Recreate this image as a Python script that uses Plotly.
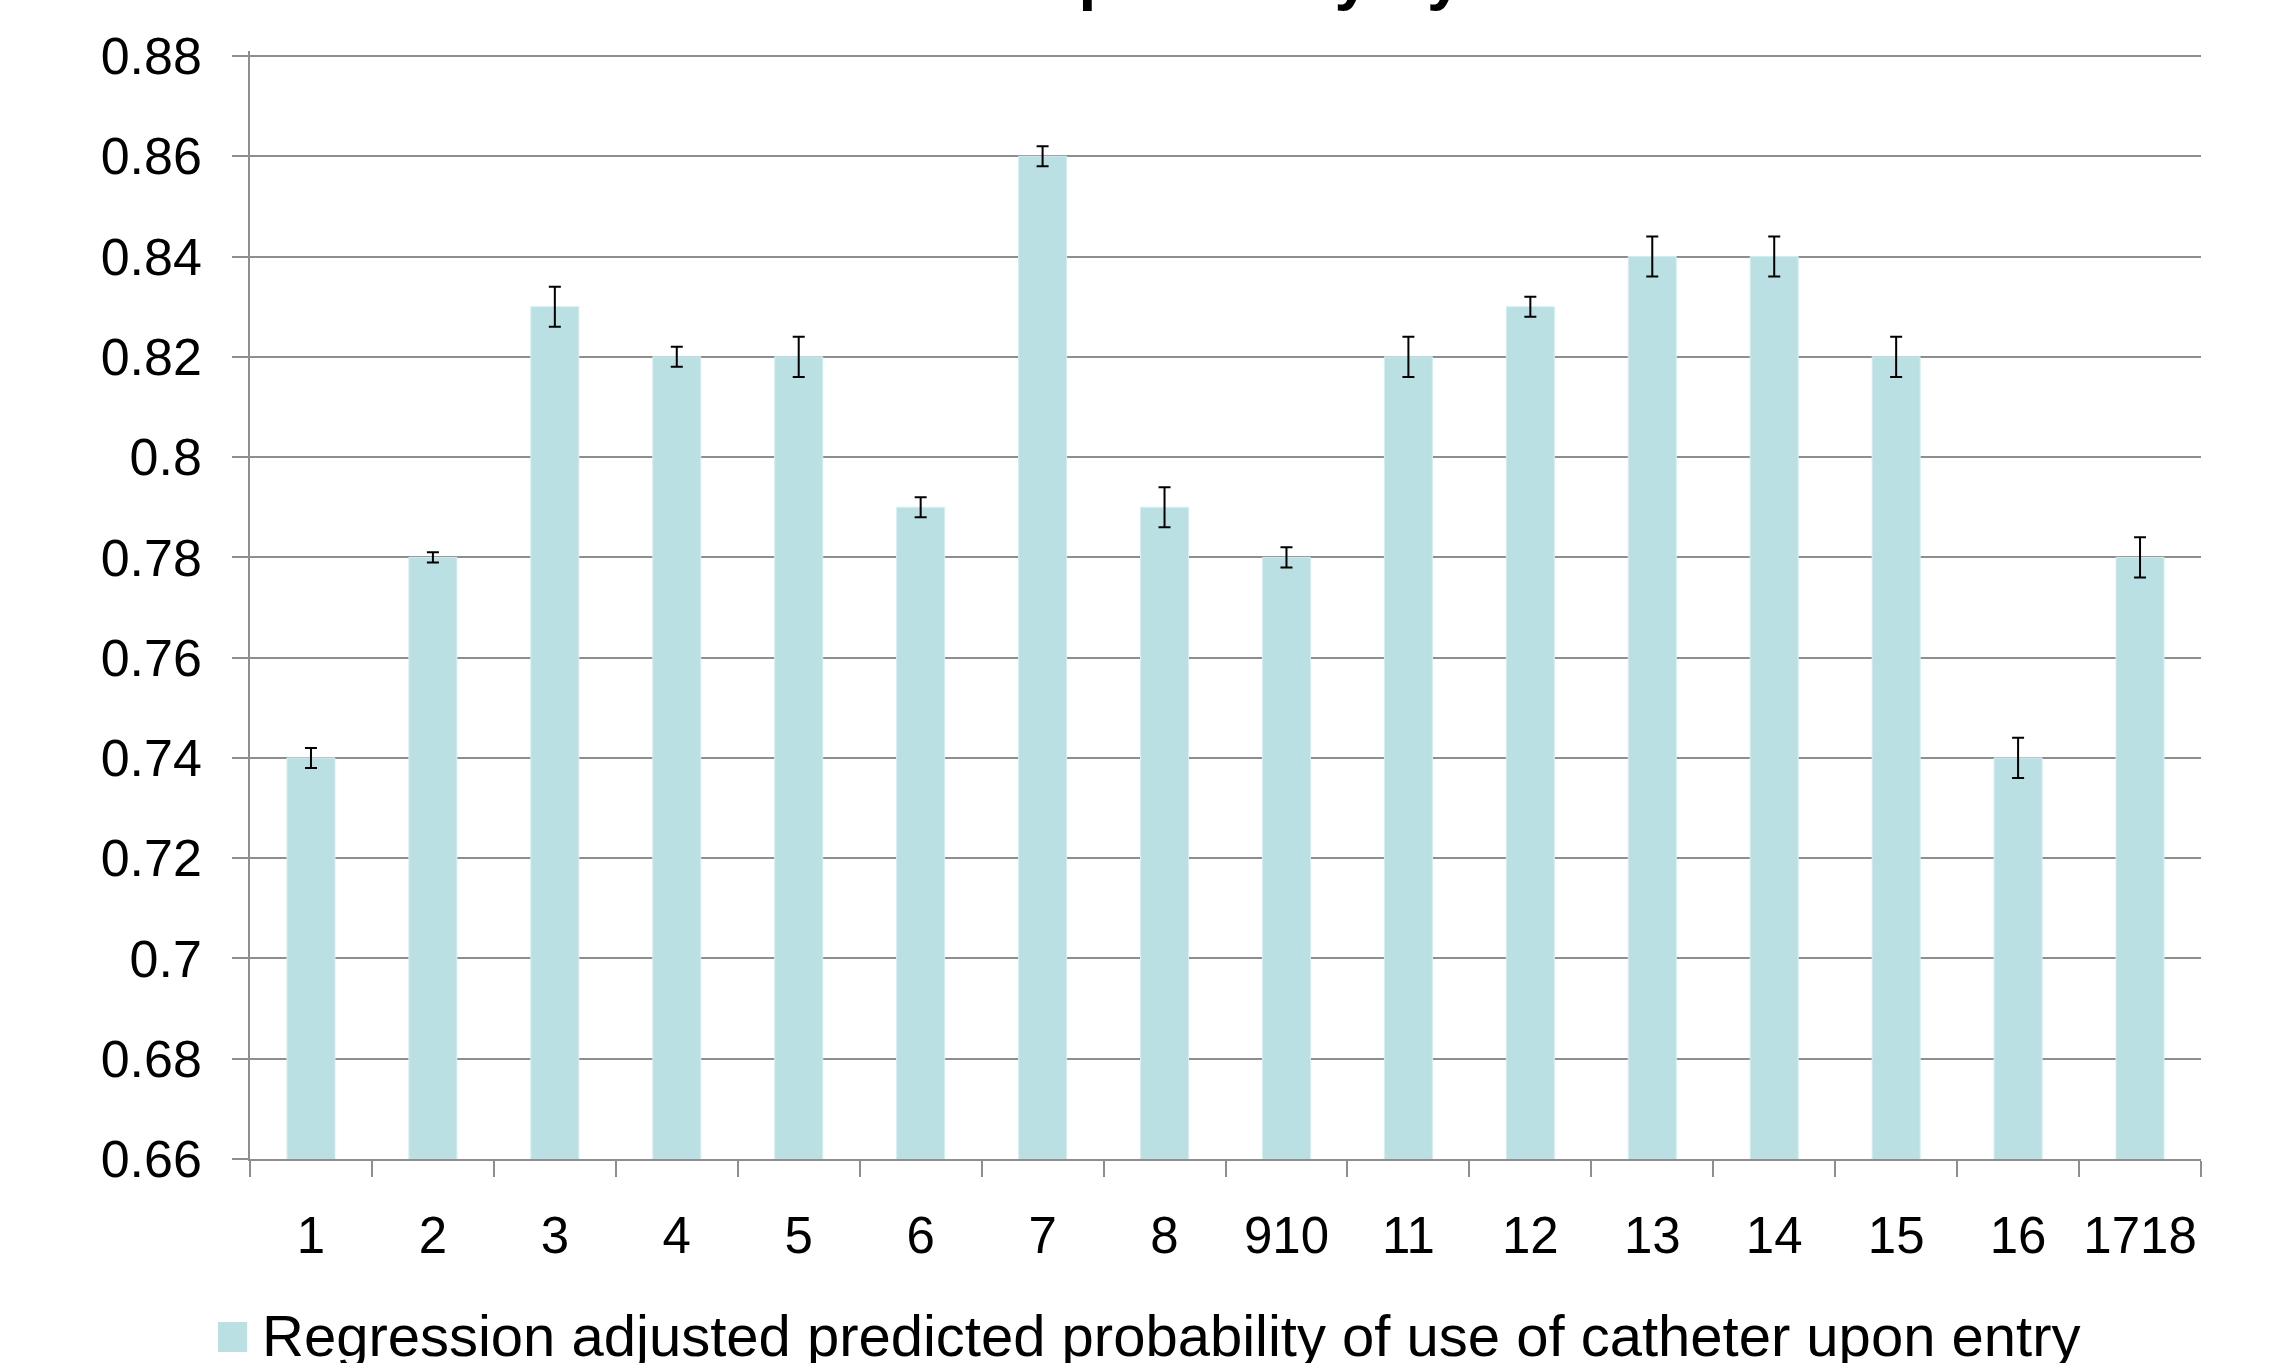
import plotly.graph_objects as go

categories = ["1", "2", "3", "4", "5", "6", "7", "8", "910", "11", "12", "13", "14", "15", "16", "1718"]
values = [0.74, 0.78, 0.83, 0.82, 0.82, 0.79, 0.86, 0.79, 0.78, 0.82, 0.83, 0.84, 0.84, 0.82, 0.74, 0.78]
errors = [0.002, 0.001, 0.004, 0.002, 0.004, 0.002, 0.002, 0.004, 0.002, 0.004, 0.002, 0.004, 0.004, 0.004, 0.004, 0.004]
y_tickvals = [0.66, 0.68, 0.70, 0.72, 0.74, 0.76, 0.78, 0.80, 0.82, 0.84, 0.86, 0.88]
y_ticktext = ["0.66", "0.68", "0.7", "0.72", "0.74", "0.76", "0.78", "0.8", "0.82", "0.84", "0.86", "0.88"]
series_name = "Regression adjusted predicted probability of use of catheter upon entry"
title_text = "Catheter use upon entry by State"

W, H = 2270, 1363
ML, MR, MT, MB = 250, 69, 51, 204
PH = H - MT - MB
PW = W - ML - MR

FONT = "Liberation Sans, Arial, sans-serif"
GRID = "#8e8e8e"
BAR = "#bbe0e3"

fig = go.Figure()
fig.add_trace(go.Bar(
    x=categories, y=values, name=series_name,
    marker=dict(color=BAR, line=dict(color="#d6eef0", width=1)),
    error_y=dict(type="data", array=errors, visible=True, color="black", thickness=2, width=6),
    showlegend=False,
))

def py(pix):
    return (H - MB - pix) / PH

def px(pix):
    return (pix - ML) / PW

# legend (manual, to match the large swatch)
fig.add_shape(type="rect", xref="paper", yref="paper",
              x0=px(218), x1=px(247), y0=py(1352), y1=py(1322),
              fillcolor=BAR, line=dict(width=0))
fig.add_annotation(text=series_name, xref="paper", yref="paper",
                   x=px(260), y=py(1335), xanchor="left", yanchor="middle",
                   showarrow=False, font=dict(family=FONT, size=58, color="black"))

# title, mostly cut off at the top edge
fig.add_annotation(text="<b>" + title_text + "</b>", xref="paper", yref="paper",
                   x=px(W / 2), y=py(14), xanchor="center", yanchor="bottom",
                   showarrow=False, font=dict(family=FONT, size=64, color="black"))

fig.update_layout(
    width=W, height=H,
    margin=dict(l=ML, r=MR, t=MT, b=MB, pad=0, autoexpand=False),
    paper_bgcolor="white", plot_bgcolor="white",
    bargap=0.606,
    font=dict(family=FONT, color="black"),
    xaxis=dict(
        type="category", tickson="boundaries", ticks="outside", ticklen=16,
        tickcolor=GRID, tickwidth=2, showline=True, linecolor=GRID, linewidth=2,
        showgrid=False, tickfont=dict(size=51, color="black"), ticklabelstandoff=31,
        tickangle=0, automargin=False,
    ),
    yaxis=dict(
        range=[0.66, 0.881], tickvals=y_tickvals, ticktext=y_ticktext,
        ticks="outside", ticklen=16, tickcolor=GRID, tickwidth=2,
        showline=True, linecolor=GRID, linewidth=1.5,
        showgrid=True, gridcolor=GRID, gridwidth=2, zeroline=False,
        tickfont=dict(size=52, color="black"), ticklabelstandoff=20,
        automargin=False,
    ),
)

fig.write_html("out.html", config={"displayModeBar": False},
               post_script="document.body.style.margin='0';")
